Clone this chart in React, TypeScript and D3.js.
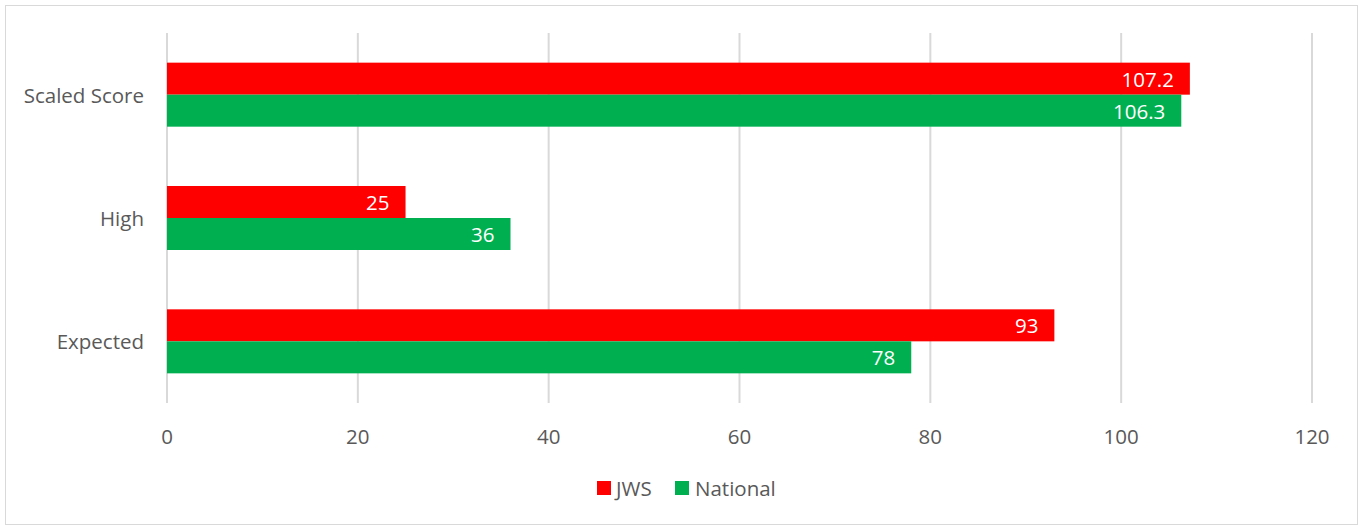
import React from "react";
import * as d3 from "d3";

const categories = ["Scaled Score", "High", "Expected"];
const seriesNames = ["JWS", "National"];
const jwsValues = [107.2, 25, 93];
const nationalValues = [106.3, 36, 78];
const xTicks = [0, 20, 40, 60, 80, 100, 120];
const colors = ["#FF0000", "#00B050"];

const W = 1362;
const H = 527;
const FONT = "'Open Sans', sans-serif";

export default function App() {
  const plotLeft = 167;
  const plotRight = 1312;
  const plotTop = 33;
  const plotBottom = 403;
  const x = d3.scaleLinear().domain([0, 120]).range([plotLeft, plotRight]);
  const y = d3.scaleBand<string>().domain(categories).range([plotTop, plotBottom]).padding(0);
  const groupH = y.bandwidth() * 0.519;
  const inner = d3.scaleBand<string>().domain(seriesNames).range([0, groupH]).padding(0);
  const series = [jwsValues, nationalValues];

  return (
    <svg width={W} height={H} style={{ position: "absolute", left: 0, top: 0, display: "block" }}>
      <rect x={0} y={0} width={W} height={H} fill="#fff" />
      <rect x={5.5} y={5.5} width={1352} height={519} fill="#fff" stroke="#D9D9D9" strokeWidth={1} />
      {xTicks.map((t) => (
        <g key={t}>
          <line x1={x(t)} x2={x(t)} y1={plotTop} y2={plotBottom} stroke="#D9D9D9" strokeWidth={2} />
          <text x={x(t)} y={436} textAnchor="middle" dominantBaseline="central" fontSize={20.5} fill="#595959" fontFamily={FONT}>
            {t}
          </text>
        </g>
      ))}
      {categories.map((c, i) => {
        const gy = (y(c) as number) + (y.bandwidth() - groupH) / 2;
        return (
          <g key={c}>
            <text x={144} y={(y(c) as number) + y.bandwidth() / 2} textAnchor="end" dominantBaseline="central" fontSize={20.5} fill="#595959" fontFamily={FONT}>
              {c}
            </text>
            {seriesNames.map((s, si) => {
              const v = series[si][i];
              const by = gy + (inner(s) as number);
              return (
                <g key={s}>
                  <rect x={x(0)} y={by} width={x(v) - x(0)} height={inner.bandwidth()} fill={colors[si]} />
                  <text x={x(v) - 16} y={by + inner.bandwidth() / 2} textAnchor="end" dominantBaseline="central" fontSize={20.5} fill="#fff" fontFamily={FONT}>
                    {v}
                  </text>
                </g>
              );
            })}
          </g>
        );
      })}
      <g>
        <rect x={597} y={481} width={14} height={14} fill={colors[0]} />
        <text x={616} y={488} dominantBaseline="central" fontSize={20.5} fill="#595959" fontFamily={FONT}>
          {seriesNames[0]}
        </text>
        <rect x={675} y={481} width={14} height={14} fill={colors[1]} />
        <text x={695} y={488} dominantBaseline="central" fontSize={20.5} fill="#595959" fontFamily={FONT}>
          {seriesNames[1]}
        </text>
      </g>
    </svg>
  );
}
